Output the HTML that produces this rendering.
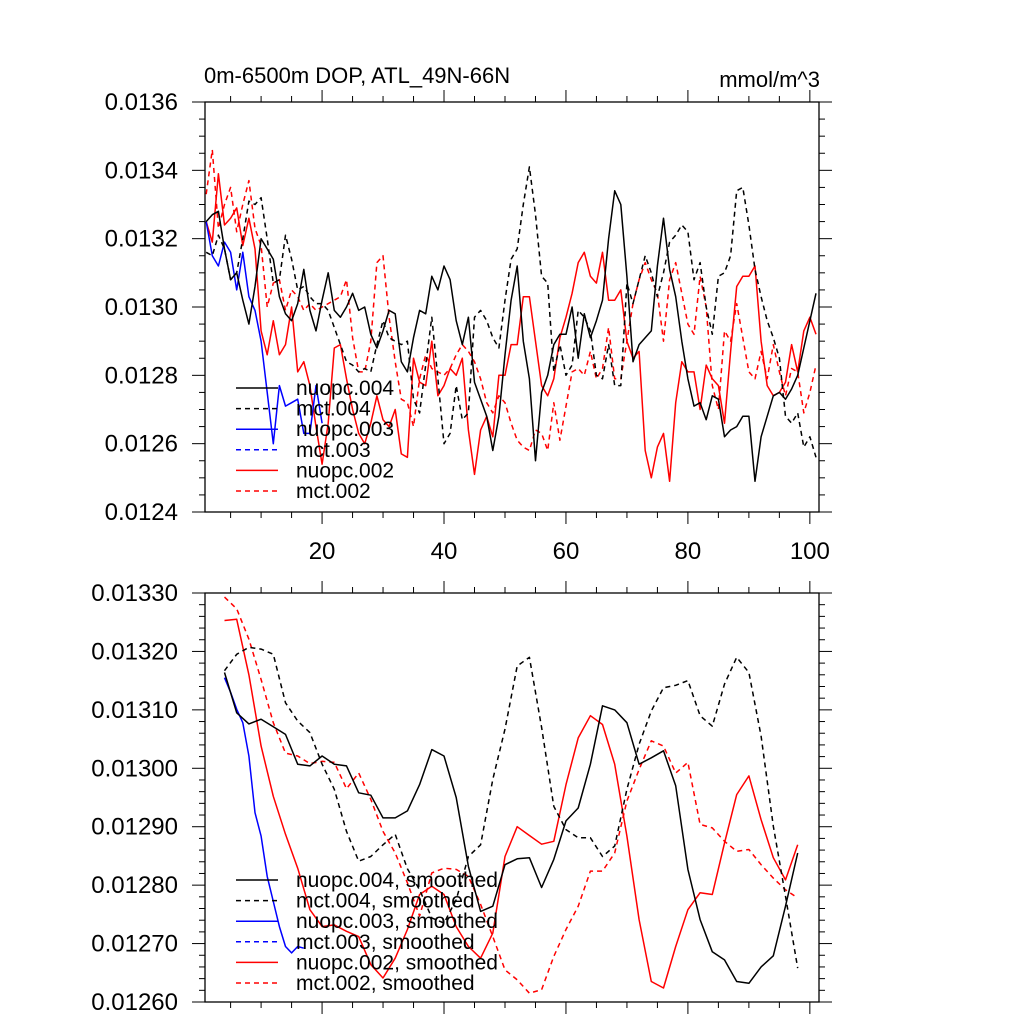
<!DOCTYPE html>
<html><head><meta charset="utf-8"><title>DOP time series</title>
<style>
html,body{margin:0;padding:0;background:#fff;}
svg{display:block;font-family:"Liberation Sans",sans-serif;}
</style></head>
<body>
<svg id="chart" width="1024" height="1024" viewBox="0 0 1024 1024" xmlns="http://www.w3.org/2000/svg">
<rect x="0" y="0" width="1024" height="1024" fill="#fff"/>
<text x="204" y="83" font-size="22">0m-6500m DOP, ATL_49N-66N</text>
<text x="820" y="87" font-size="22" text-anchor="end">mmol/m^3</text>
<g id="top"></g>
<g id="bot"></g>
</svg>
<script>
// ---- top panel raw data (x = 1..N) ----
const nuopc004 = [.01325,.01327,.01328,.01317,.01308,.01310,.01302,.01295,.01306,.01320,.01317,.01314,.01303,.01298,.01296,.01301,.01311,.01299,.01293,.01302,.01310,.01299,.01297,.01300,.01304,.01299,.01300,.01292,.01288,.01293,.01299,.01298,.01284,.01281,.01291,.01299,.01298,.01309,.01305,.01312,.01308,.01296,.01289,.01297,.01278,.01273,.01268,.01258,.01268,.01286,.01302,.01312,.01290,.01279,.01255,.01275,.01280,.01289,.01292,.01292,.01300,.01285,.01298,.01291,.01296,.01302,.01320,.01334,.01330,.01309,.01284,.01289,.01291,.01293,.01312,.01326,.01311,.01303,.01290,.01279,.01271,.01272,.01267,.01274,.01273,.01262,.01264,.01265,.01268,.01268,.01249,.01262,.01268,.01274,.01275,.01273,.01276,.01280,.01288,.01296,.01304];
const mct004 = [.01316,.01315,.01321,.01317,.01308,.01310,.01320,.01331,.01330,.01332,.01320,.01307,.01308,.01321,.01314,.01305,.01306,.01303,.01301,.01301,.01299,.01294,.01289,.01284,.01283,.01281,.01282,.01281,.01289,.01296,.01291,.01290,.01289,.01290,.01273,.01269,.01283,.01297,.01279,.01260,.01263,.01277,.01267,.01269,.01297,.01299,.01296,.01291,.01288,.01302,.01314,.01317,.01330,.01341,.01327,.01309,.01307,.01281,.01289,.01280,.01283,.01299,.01297,.01293,.01280,.01279,.01289,.01277,.01277,.01307,.01301,.01308,.01315,.01310,.01303,.01310,.01319,.01321,.01324,.01322,.01308,.01313,.01300,.01292,.01309,.01310,.01315,.01334,.01335,.01324,.01311,.01303,.01296,.01291,.01285,.01268,.01266,.01269,.01259,.01262,.01256];
const nuopc003 = [.01325,.01315,.01312,.01319,.01316,.01305,.01316,.01303,.01299,.01290,.01275,.01260,.01277,.01271,.01272,.01273,.01263,.01263,.01277,.01266];
const nuopc002 = [.01325,.01319,.01339,.01324,.01326,.01329,.01318,.01326,.01317,.01293,.01286,.01296,.01286,.01289,.01300,.01281,.01284,.01277,.01265,.01254,.01266,.01288,.01289,.01279,.01270,.01263,.01260,.01266,.01274,.01267,.01265,.01270,.01257,.01256,.01285,.01278,.01277,.01290,.01274,.01277,.01282,.01280,.01285,.01264,.01251,.01264,.01268,.01262,.01280,.01280,.01289,.01289,.01303,.01303,.01290,.01277,.01274,.01279,.01291,.01297,.01304,.01313,.01316,.01309,.01307,.01316,.01302,.01302,.01305,.01290,.01285,.01287,.01258,.01250,.01259,.01263,.01249,.01272,.01284,.01281,.01281,.01270,.01283,.01279,.01277,.01266,.01287,.01306,.01309,.01309,.01312,.01290,.01277,.01274,.01275,.01278,.01289,.01281,.01293,.01297,.01292];
const mct002 = [.01333,.01346,.01323,.01330,.01335,.01322,.01330,.01337,.01323,.01318,.01300,.01307,.01308,.01299,.01305,.01303,.01299,.01301,.01299,.01300,.01301,.01302,.01303,.01308,.01291,.01281,.01281,.01290,.01313,.01315,.01297,.01284,.01273,.01272,.01265,.01279,.01286,.01282,.01281,.01280,.01282,.01286,.01289,.01287,.01284,.01279,.01272,.01269,.01274,.01272,.01266,.01261,.01259,.01258,.01264,.01263,.01258,.01272,.01261,.01271,.01281,.01282,.01280,.01287,.01279,.01282,.01294,.01279,.01279,.01290,.01301,.01308,.01313,.01308,.01304,.01290,.01308,.01313,.01304,.01295,.01292,.01309,.01300,.01277,.01270,.01293,.01290,.01301,.01291,.01281,.01279,.01287,.01279,.01289,.01281,.01274,.01282,.01281,.01269,.01275,.01283];
// ---- bottom panel smoothed data (values in 1e-5 units) ----
const smoothX = [4,6,8,10,12,14,16,18,20,22,24,26,28,30,32,34,36,38,40,42,44,46,48,50,52,54,56,58,60,62,64,66,68,70,72,74,76,78,80,82,84,86,88,90,92,94,96,98];
const sNuopc004 = [1316.4,1309.5,1307.6,1308.4,1307.1,1305.8,1300.7,1300.4,1302.1,1300.7,1300.4,1295.8,1295.4,1291.5,1291.5,1292.7,1297.2,1303.2,1302.1,1295.0,1283.2,1275.5,1276.4,1283.5,1284.5,1284.7,1279.6,1284.4,1291.0,1293.2,1300.7,1310.7,1310.0,1307.8,1300.7,1301.8,1303.0,1297.0,1282.7,1274.1,1268.6,1267.2,1263.5,1263.2,1266.0,1267.9,1276.4,1285.5];
const sMct004 = [1316.7,1319.5,1320.7,1320.4,1319.5,1311.2,1308.1,1306.1,1300.7,1296.4,1289.2,1284.1,1284.9,1286.9,1288.7,1282.8,1279.2,1274.4,1273.5,1277.5,1284.9,1286.9,1298.1,1306.7,1317.5,1319.0,1307.0,1293.5,1289.5,1288.1,1288.1,1284.9,1286.7,1296.4,1304.1,1309.8,1313.8,1314.2,1315.0,1309.0,1307.2,1314.4,1319.0,1316.4,1305.5,1290.1,1278.1,1265.8];
const smoothX003 = [4,5,6,7,8,9,10,11,12,13,14,15,16,17];
const sNuopc003 = [1315.5,1313.0,1310.1,1307.8,1302.1,1292.4,1288.4,1281.5,1277.2,1272.9,1269.5,1268.4,1269.5,1269.2];
const sNuopc002 = [1325.3,1325.5,1316.0,1303.8,1295.2,1288.7,1282.9,1275.8,1272.9,1273.2,1272.1,1271.2,1266.4,1264.1,1267.5,1272.4,1278.4,1279.8,1278.4,1272.9,1269.5,1267.5,1271.8,1284.9,1290.0,1288.5,1287.0,1287.5,1297.2,1305.2,1309.0,1307.5,1300.7,1288.4,1274.1,1263.5,1262.4,1269.5,1275.8,1278.7,1278.4,1287.2,1295.5,1298.7,1291.2,1284.7,1280.9,1286.9];
const sMct002 = [1329.3,1327.3,1322.1,1315.2,1307.8,1302.6,1302.1,1300.8,1301.2,1301.0,1296.5,1299.2,1294.7,1289.2,1285.5,1280.4,1274.7,1282.1,1282.9,1282.7,1281.5,1276.7,1271.2,1265.5,1263.8,1261.5,1262.1,1267.8,1272.4,1276.4,1282.4,1282.4,1285.5,1294.4,1299.8,1304.7,1303.8,1299.2,1301.0,1290.4,1289.8,1287.5,1285.8,1286.1,1283.5,1281.2,1279.2,1277.8];
// ---- tick labels ----
const topYTicks = [0.0124,0.0126,0.0128,0.0130,0.0132,0.0134,0.0136];
const botYTicks = [0.0126,0.0127,0.0128,0.0129,0.0130,0.0131,0.0132,0.0133];
const xTicks = [20,40,60,80,100];
const legendTop = ["nuopc.004","mct.004","nuopc.003","mct.003","nuopc.002","mct.002"];
const legendBot = ["nuopc.004, smoothed","mct.004, smoothed","nuopc.003, smoothed","mct.003, smoothed","nuopc.002, smoothed","mct.002, smoothed"];

const NS = "http://www.w3.org/2000/svg";
const L = 205, R = 819, XMIN = 0.8, XMAX = 101.5;
function xs(x){ return L + (x - XMIN) / (XMAX - XMIN) * (R - L); }
const TOP = {t:102, b:512, min:0.0124, max:0.0136};
const BOT = {t:593, b:1002, min:0.0126, max:0.0133};
function ys(p, v){ return p.b - (v - p.min) / (p.max - p.min) * (p.b - p.t); }
function el(tag, attrs, parent){
  const e = document.createElementNS(NS, tag);
  for (const k in attrs) e.setAttribute(k, attrs[k]);
  parent.appendChild(e); return e;
}
const styles = [
  {c:"#000", d:null},{c:"#000", d:"5,4"},{c:"#0000ff", d:null},{c:"#0000ff", d:"5,4"},{c:"#ff0000", d:null},{c:"#ff0000", d:"5,4"}
];
function drawAxes(g, p, major, minor, dec, labelX){
  const f = el("rect", {x:L, y:p.t, width:R-L, height:p.b-p.t, fill:"none", stroke:"#000", "stroke-width":1.3}, g);
  
  
  const nMin = Math.round((p.max - p.min)/minor);
  for (let k=0;k<=nMin;k++){
    const v = p.min + k*minor, y = ys(p, v);
    const isMaj = Math.abs(((v - p.min)/major) - Math.round((v - p.min)/major)) < 1e-6;
    const len = isMaj ? 13 : 6;
    const t1 = el("line", {x1:L-len, x2:L, y1:y, y2:y, stroke:"#000", "stroke-width":1}, g);
    
    
    const t2 = el("line", {x1:R, x2:R+len, y1:y, y2:y, stroke:"#000", "stroke-width":1}, g);
    
    
  }
  const ticks = p === TOP ? topYTicks : botYTicks;
  ticks.forEach(v=>{
    const t = el("text", {x:178, y:ys(p,v)+8, "font-size":24, "text-anchor":"end"}, g);
    t.textContent = v.toFixed(dec);
    
    
  });
  for (let x=5;x<=100;x+=5){
    const isMaj = x % 20 === 0, len = isMaj ? 12 : 6, px = xs(x);
    const a = el("line", {x1:px, x2:px, y1:p.b, y2:p.b+len, stroke:"#000", "stroke-width":1}, g);
    
    
    const b = el("line", {x1:px, x2:px, y1:p.t-len, y2:p.t, stroke:"#000", "stroke-width":1}, g);
    
    
  }
  if (labelX){
    xTicks.forEach(x=>{
      const t = el("text", {x:xs(x), y:559, "font-size":24, "text-anchor":"middle"}, g);
      t.textContent = String(x);
      
      
    });
  }
}
function drawSeries(g, p, xv, vals, scale, st, name){
  const pts = vals.map((v,i)=> xs(xv[i]).toFixed(1) + "," + ys(p, v*scale).toFixed(1)).join(" ");
  const a = {points:pts, fill:"none", stroke:st.c, "stroke-width":1.5, "stroke-linejoin":"round"};
  if (st.d) a["stroke-dasharray"] = st.d;
  const pl = el("polyline", a, g);
  
  
}
function drawLegend(g, labels, y0){
  labels.forEach((lab,i)=>{
    const y = y0 + i*20.6, st = styles[i];
    const a = {x1:236, x2:278, y1:y, y2:y, stroke:st.c, "stroke-width":1.5};
    if (st.d) a["stroke-dasharray"] = st.d;
    const ln = el("line", a, g);
    
    
    const t = el("text", {x:296, y:y+7, "font-size":21}, g);
    t.textContent = lab;
    
    
  });
}
const gt = document.getElementById("top"), gb = document.getElementById("bot");
function idx(n){ const a=[]; for(let i=1;i<=n;i++) a.push(i); return a; }
drawSeries(gt, TOP, idx(mct002.length), mct002, 1, styles[5], "mct002-line");
drawSeries(gt, TOP, idx(nuopc002.length), nuopc002, 1, styles[4], "nuopc002-line");
drawSeries(gt, TOP, idx(nuopc003.length), nuopc003, 1, styles[2], "nuopc003-line");
drawSeries(gt, TOP, idx(mct004.length), mct004, 1, styles[1], "mct004-line");
drawSeries(gt, TOP, idx(nuopc004.length), nuopc004, 1, styles[0], "nuopc004-line");
drawAxes(gt, TOP, 0.0002, 0.00005, 4, true);
drawLegend(gt, legendTop, 388);

drawSeries(gb, BOT, smoothX, sMct002, 1e-5, styles[5], "mct002-smoothed-line");
drawSeries(gb, BOT, smoothX, sNuopc002, 1e-5, styles[4], "nuopc002-smoothed-line");
drawSeries(gb, BOT, smoothX003, sNuopc003, 1e-5, styles[2], "nuopc003-smoothed-line");
drawSeries(gb, BOT, smoothX, sMct004, 1e-5, styles[1], "mct004-smoothed-line");
drawSeries(gb, BOT, smoothX, sNuopc004, 1e-5, styles[0], "nuopc004-smoothed-line");
drawAxes(gb, BOT, 0.0001, 0.00002, 5, false);
drawLegend(gb, legendBot, 880);
</script>
</body></html>
